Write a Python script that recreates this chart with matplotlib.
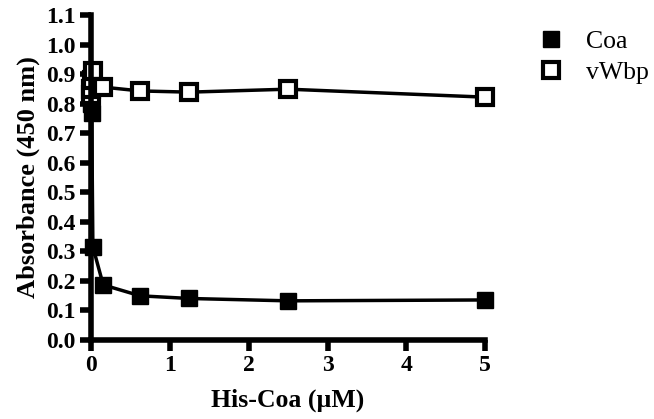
import numpy as np
import matplotlib
matplotlib.use('Agg')
import matplotlib.pyplot as plt

# His-Coa concentration (uM)
conc = [0, 0.005, 0.01, 0.025, 0.156, 0.625, 1.25, 2.5, 5]
coa = [0.85, 0.80, 0.77, 0.315, 0.186, 0.149, 0.140, 0.132, 0.135]
vwbp = [0.83, 0.85, 0.88, 0.91, 0.856, 0.843, 0.839, 0.849, 0.822]

plt.rcParams['font.family'] = 'Liberation Serif'

fig = plt.figure(figsize=(6.54, 4.19), dpi=100)
ax = fig.add_axes([0.139, 0.189, 0.603, 0.775])

ax.plot(conc, coa, color='black', lw=2.5, marker='s', ms=11, mfc='black',
        mec='black', label='Coa', clip_on=False)
ax.plot(conc, vwbp, color='black', lw=2.5, marker='s', ms=11, mfc='white',
        mec='black', mew=3, label='vWbp', clip_on=False)

ax.set_xlim(0, 5)
ax.set_ylim(0, 1.1)
ax.set_xticks(range(6))
ax.set_yticks(np.arange(0, 1.11, 0.1))
ax.set_yticklabels(['%.1f' % v for v in np.arange(0, 1.11, 0.1)])

for s in ['top', 'right']:
    ax.spines[s].set_visible(False)
for s in ['left', 'bottom']:
    ax.spines[s].set_linewidth(4)
ax.tick_params(direction='out', length=8, width=4, labelsize=17, pad=3)
for lab in ax.get_xticklabels() + ax.get_yticklabels():
    lab.set_fontweight('bold')

ax.set_xlabel('His-Coa (\u00b5M)', fontsize=18.5, fontweight='bold', labelpad=9)
ax.set_ylabel('Absorbance (450 nm)', fontsize=19, fontweight='bold', labelpad=4)

ax.legend(loc='upper left', bbox_to_anchor=(1.07, 1.025), frameon=False,
          fontsize=18.5, handlelength=1.2, handletextpad=0.75, labelspacing=0.3,
          numpoints=1)
leg = ax.get_legend()
for h in leg.legend_handles:
    h.set_linestyle('none')

fig.savefig('out.png', dpi=100)
